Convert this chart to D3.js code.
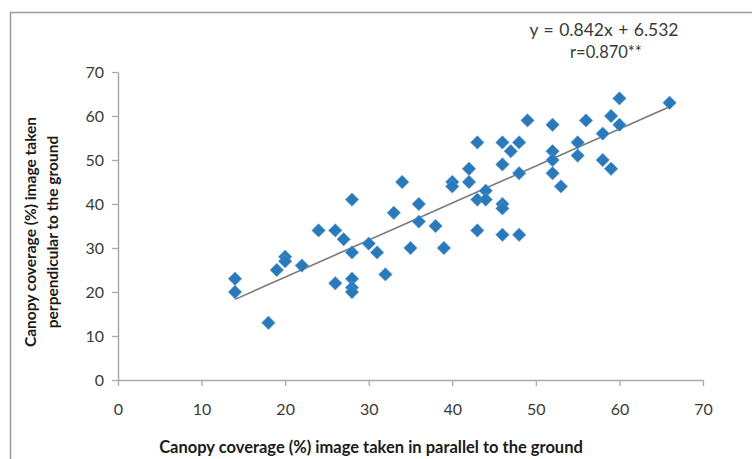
<!DOCTYPE html>
<html>
<head>
<meta charset="utf-8">
<script src="https://cdn.jsdelivr.net/npm/d3@7"></script>
<style>
  body { margin: 0; background: #fff; }
  text { font-family: Lato, "Open Sans", sans-serif; }
</style>
</head>
<body>
<svg id="chart"></svg>
<script>
// values
const xValues = [14, 14, 18, 19, 20, 20, 22, 24, 26, 26, 27, 28, 28, 28, 28, 28, 30, 31, 32, 33,
                 34, 35, 36, 36, 38, 39, 40, 40, 42, 42, 43, 43, 43, 44, 44, 46, 46, 46, 46, 46,
                 47, 48, 48, 48, 49, 52, 52, 52, 52, 53, 55, 55, 56, 58, 58, 59, 59, 60, 60, 66];
const yValues = [23, 20, 13, 25, 28, 27, 26, 34, 34, 22, 32, 29, 41, 23, 21, 20, 31, 29, 24, 38,
                 45, 30, 40, 36, 35, 30, 45, 44, 48, 45, 54, 41, 34, 43, 41, 54, 49, 40, 39, 33,
                 52, 54, 47, 33, 59, 58, 52, 50, 47, 44, 54, 51, 59, 56, 50, 60, 48, 64, 58, 63];
const xTicks = [0, 10, 20, 30, 40, 50, 60, 70];
const yTicks = [0, 10, 20, 30, 40, 50, 60, 70];
const slope = 0.842, intercept = 6.532;
const fitRange = [14, 66];
const eqLabel = "y = 0.842x + 6.532";
const rLabel = "r=0.870**";

const width = 752, height = 459;
const margin = { top: 72, right: 49, bottom: 79, left: 118 };

const svg = d3.select("#chart")
              .attr("width", width)
              .attr("height", height);

svg.append("rect").attr("width", width).attr("height", height).attr("fill", "#fff");

// chart frame (left and top edges visible)
svg.append("path")
   .attr("d", `M10.5,${height} V12.5 H${width}`)
   .attr("fill", "none")
   .attr("stroke", "#9a9a9a")
   .attr("stroke-width", 1.5);

const x = d3.scaleLinear().domain([0, 70]).range([margin.left, width - margin.right]);
const y = d3.scaleLinear().domain([0, 70]).range([height - margin.bottom, margin.top]);

// X axis
const gx = svg.append("g")
   .attr("transform", `translate(0, ${y(0)})`)
   .call(d3.axisBottom(x).tickValues(xTicks).tickSize(6).tickPadding(18).tickSizeOuter(0));

// Y axis
const gy = svg.append("g")
   .attr("transform", `translate(${x(0)}, 0)`)
   .call(d3.axisLeft(y).tickValues(yTicks).tickSize(6).tickPadding(8).tickSizeOuter(0));

[gx, gy].forEach(g => {
    g.select(".domain").attr("stroke", "#aaa").attr("stroke-width", 1.5);
    g.selectAll(".tick line").attr("stroke", "#aaa").attr("stroke-width", 1.3);
    g.selectAll(".tick text")
     .attr("fill", "#3a3a3a")
     .style("font-family", "Lato, 'Open Sans', sans-serif")
     .style("font-size", "16px");
});

// trend line
svg.append("line")
   .attr("x1", x(fitRange[0])).attr("y1", y(slope * fitRange[0] + intercept))
   .attr("x2", x(fitRange[1])).attr("y2", y(slope * fitRange[1] + intercept))
   .attr("stroke", "#7a7a7a")
   .attr("stroke-width", 1.6);

// points
const points = xValues.map((v, i) => ({ x: v, y: yValues[i] }));
const diamond = d3.symbol().type(d3.symbolSquare).size(90);

svg.selectAll(".pt")
   .data(points)
   .enter()
   .append("path")
   .attr("class", "pt")
   .attr("d", diamond)
   .attr("transform", d => `translate(${x(d.x)},${y(d.y)}) rotate(45)`)
   .attr("fill", "#2a79bb")
   .attr("stroke", "#5d9bd0")
   .attr("stroke-width", 0.6);

// equation
svg.append("text")
   .attr("x", 604).attr("y", 36)
   .attr("text-anchor", "middle")
   .attr("fill", "#3a3a3a")
   .style("font-size", "17.5px")
   .style("word-spacing", "1px")
   .text(eqLabel);

svg.append("text")
   .attr("x", 606).attr("y", 58)
   .attr("text-anchor", "middle")
   .attr("fill", "#3a3a3a")
   .style("font-size", "16.5px")
   .text(rLabel);

// axis titles
svg.append("text")
   .attr("x", 371).attr("y", 453)
   .attr("text-anchor", "middle")
   .attr("fill", "#1a1a1a")
   .style("font-size", "16.5px")
   .style("font-weight", "bold")
   .text("Canopy coverage (%) image taken in parallel to the ground");

const yTitle = svg.append("text")
   .attr("transform", "translate(0, 232) rotate(-90)")
   .attr("text-anchor", "middle")
   .attr("fill", "#1a1a1a")
   .style("font-size", "15.5px")
   .style("font-weight", "bold");

yTitle.append("tspan").attr("x", 0).attr("y", 36).text("Canopy coverage (%) image taken");
yTitle.append("tspan").attr("x", 0).attr("y", 58).text("perpendicular to the ground");
</script>
</body>
</html>
